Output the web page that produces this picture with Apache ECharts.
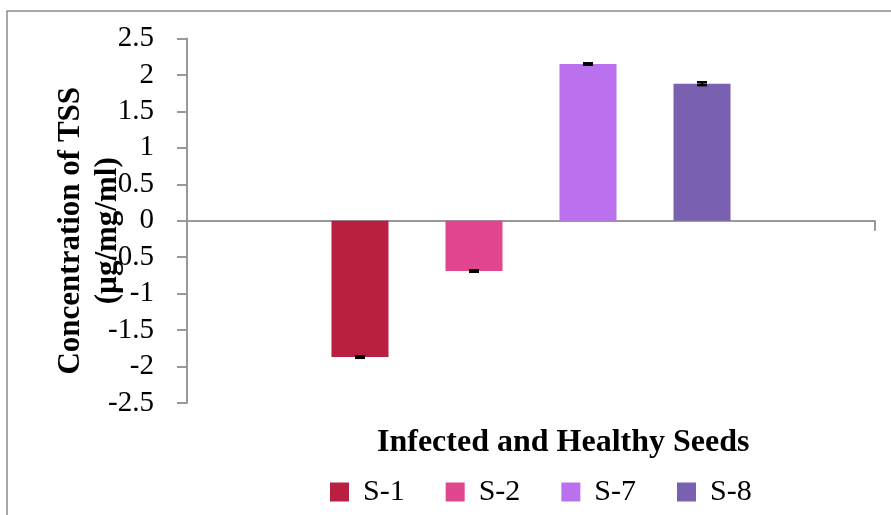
<!DOCTYPE html>
<html><head><meta charset="utf-8">
<script src="https://cdn.jsdelivr.net/npm/echarts@6/dist/echarts.min.js"></script>
<style>html,body{margin:0;padding:0;background:#fff}#c{width:891px;height:515px}</style>
</head><body><div id="c"></div>
<script>
const seriesNames = ['S-1', 'S-2', 'S-7', 'S-8'];
const values = [-1.87, -0.69, 2.15, 1.88];
const errors = [0.01, 0.01, 0.01, 0.02];
const colors = ['#B81F40', '#DF468F', '#BB70EE', '#7A60B0'];
const categories = [''];
const yMin = -2.5, yMax = 2.5, yInterval = 0.5;

const FONT = '"Liberation Serif", "Times New Roman", serif';
const CAT_GAP = 0.42, BAR_GAP = 1.0;

const chart = echarts.init(document.getElementById('c'));

const barSeries = seriesNames.map((n, i) => ({
  name: n,
  type: 'bar',
  data: [values[i]],
  itemStyle: { color: colors[i] },
  barGap: '100%',
  barCategoryGap: '42%',
  z: 2
}));

const errData = values.map((v, i) => [0, v, errors[i], i]);

const errSeries = {
  type: 'custom',
  z: 5,
  silent: true,
  encode: { x: 0, y: 1 },
  data: errData,
  renderItem: function (params, api) {
    const v = api.value(1), e = api.value(2), idx = api.value(3);
    const band = api.size([1, 0])[0];
    const n = seriesNames.length;
    const barW = band * (1 - CAT_GAP) / (n + (n - 1) * BAR_GAP);
    const offset = (idx - (n - 1) / 2) * barW * (1 + BAR_GAP);
    const cx = api.coord([0, v])[0] + offset;
    const yT = api.coord([0, v + e])[1];
    const yB = api.coord([0, v - e])[1];
    const hw = 5;
    const st = { stroke: '#000', lineWidth: 2.5 };
    return {
      type: 'group',
      children: [
        { type: 'line', shape: { x1: cx, y1: yT, x2: cx, y2: yB }, style: st },
        { type: 'line', shape: { x1: cx - hw, y1: yT, x2: cx + hw, y2: yT }, style: st },
        { type: 'line', shape: { x1: cx - hw, y1: yB, x2: cx + hw, y2: yB }, style: st }
      ]
    };
  }
};

chart.setOption({
  animation: false,
  backgroundColor: '#fff',
  textStyle: { fontFamily: FONT },
  title: {
    text: 'Infected and Healthy Seeds',
    left: 377, top: 427,
    padding: 0,
    textStyle: { fontFamily: FONT, fontWeight: 'bold', fontSize: 32, color: '#000' }
  },
  legend: {
    data: seriesNames,
    left: 330, top: 477,
    padding: 0,
    itemWidth: 19, itemHeight: 19,
    itemGap: 41,
    icon: 'rect',
    textStyle: { fontFamily: FONT, fontSize: 30, color: '#000', padding: [0, 0, 0, 9] }
  },
  grid: { left: 187, right: 16, top: 38.5, bottom: 112, containLabel: false },
  xAxis: {
    type: 'category',
    data: categories,
    axisLine: { onZero: true, lineStyle: { color: '#999', width: 2 } },
    axisTick: { show: true, length: 10, lineStyle: { color: '#999', width: 2 } },
    axisLabel: { show: false },
    splitLine: { show: false }
  },
  yAxis: {
    type: 'value',
    min: yMin, max: yMax, interval: yInterval,
    name: 'Concentration of TSS\n(µg/mg/ml)',
    nameLocation: 'middle',
    nameRotate: 90,
    nameGap: 61,
    nameMoveOverlap: false,
    nameTextStyle: { fontFamily: FONT, fontWeight: 'bold', fontSize: 31, color: '#000', lineHeight: 37, padding: [0, 20, 0, 0] },
    axisLine: { show: true, lineStyle: { color: '#999', width: 2 } },
    axisTick: { show: true, length: 10, lineStyle: { color: '#999', width: 2 } },
    axisLabel: { fontFamily: FONT, fontSize: 29, color: '#000', margin: 33 },
    splitLine: { show: false }
  },
  graphic: [{
    type: 'rect',
    shape: { x: 7, y: 11, width: 900, height: 520 },
    style: { fill: 'none', stroke: '#8c8c8c', lineWidth: 1.5 },
    z: -1, silent: true
  }],
  series: barSeries.concat([errSeries])
});
</script>
</body></html>
